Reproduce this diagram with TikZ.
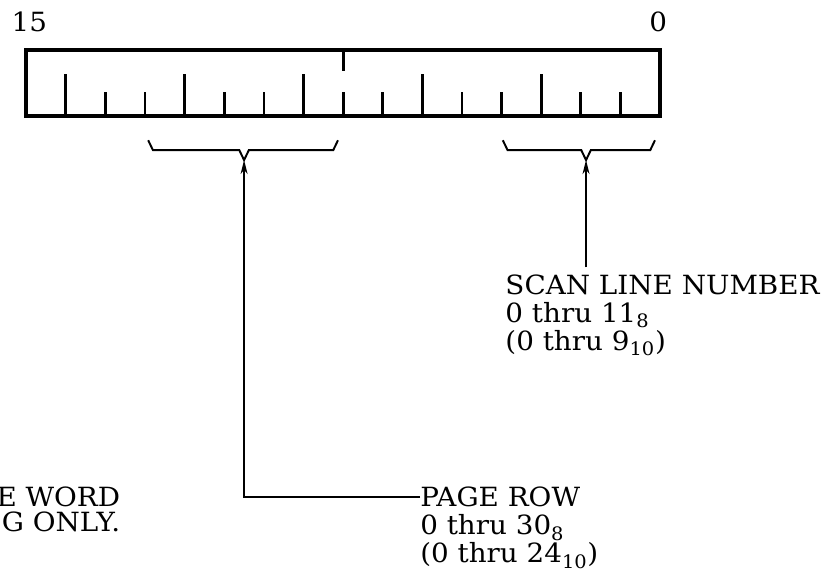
\documentclass[tikz,border=0pt]{standalone}
\usepackage{fontspec}
\setmainfont[FakeStretch=1.05]{DejaVu Serif}
\usetikzlibrary{arrows.meta,positioning}

\tikzset{
    regbox/.style={line width=2.4pt},
    bittick/.style={line width=2pt},
    fieldbrace/.style={line width=1.4pt, line join=miter},
    pointer/.style={line width=1.4pt, -{Stealth[length=10pt,width=5pt,inset=3pt]}},
    fieldtext/.style={inner sep=0pt, align=left, font=\fontsize{19}{20}\selectfont},
}

\begin{document}
\begin{tikzpicture}
    \useasboundingbox (-0.66,-11.89) rectangle (20.06,2.93);

    % Register
    \draw[regbox] (0,0) rectangle (16,1.67);
    \foreach \x in {1,4,7,10,13} {
        \draw[bittick] (\x,0) -- (\x,1.06);
    }
    \foreach \x in {2,3,5,6,8,9,11,12,14,15} {
        \draw[bittick] (\x,0) -- (\x,0.61);
    }
    \draw[bittick] (8,1.67) -- (8,1.13);

    % Bit numbers
    \node[fieldtext] (msb) at (0.08,2.37) {15};
    \node[fieldtext] (lsb) at (15.95,2.37) {0};

    % Braces
    \draw[fieldbrace] (3.08,-0.61) -- (3.2,-0.86) -- (5.38,-0.86)
        -- (5.5,-1.11) coordinate (rowtip) -- (5.62,-0.86) -- (7.75,-0.86) -- (7.87,-0.61);
    \draw[fieldbrace] (12.03,-0.61) -- (12.15,-0.86) -- (14.01,-0.86)
        -- (14.13,-1.11) coordinate (scantip) -- (14.25,-0.86) -- (15.75,-0.86) -- (15.87,-0.61);

    % Field labels
    \node[fieldtext, anchor=north west] (scanline) at (12.09,-4.0)
        {SCAN LINE NUMBER\\0 thru 11\textsubscript{8}\\(0 thru 9\textsubscript{10})};
    \node[fieldtext, anchor=north west] (pagerow) at (9.94,-9.36)
        {PAGE ROW\\0 thru 30\textsubscript{8}\\(0 thru 24\textsubscript{10})};
    \node[fieldtext, anchor=north east, align=right,
          font=\fontsize{19}{17.5}\selectfont] (wordnote) at (2.38,-9.36)
        {E WORD\\G ONLY.};

    % Arrows
    \draw[pointer, shorten <=0.18cm] (scantip |- scanline.north) -- (scantip);
    \draw[pointer] ([yshift=-0.25cm]pagerow.north west) -| (rowtip);
\end{tikzpicture}
\end{document}
